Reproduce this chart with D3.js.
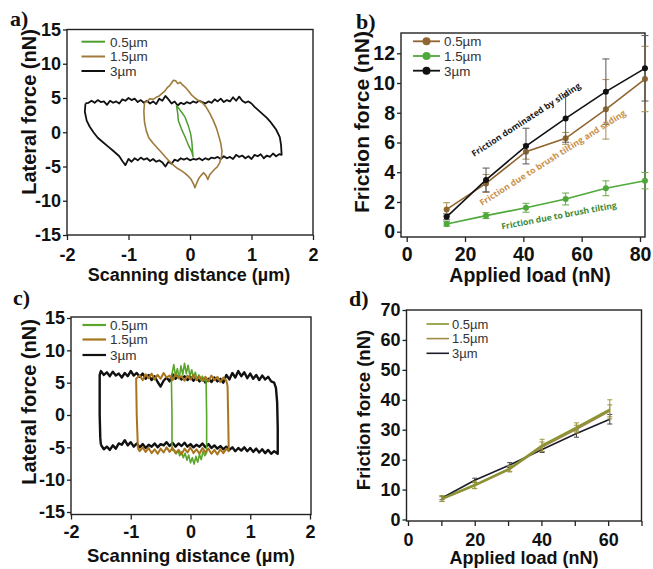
<!DOCTYPE html>
<html>
<head>
<meta charset="utf-8">
<script src="https://cdn.jsdelivr.net/npm/d3@7"></script>
<style>
  body { margin: 0; background: #fff; }
  svg { display: block; }
  .axis text { font-family: "Liberation Sans", Arial, sans-serif; font-weight: bold; fill: #111; }
  .axis line { stroke: #222; stroke-width: 1.3; }
  .title { font-family: "Liberation Sans", Arial, sans-serif; font-weight: bold; fill: #111; }
  .leg { font-family: "Liberation Sans", Arial, sans-serif; fill: #333; }
  .plabel { font-family: "Liberation Serif", "Times New Roman", serif; font-weight: bold; fill: #111; }
  .note { font-family: "Open Sans", sans-serif; font-weight: bold; }
</style>
</head>
<body>
<div id="fig"></div>
<script>
// ---------- panel a : friction loops (lateral force vs scanning distance) ----------
var loopA3 = [
  [-1.70,4.2],[-1.65,4.3],[-1.6,4.6],[-1.55,4.3],[-1.5,4.7],[-1.45,4.4],[-1.4,4.5],[-1.35,4.0],[-1.3,4.6],
  [-1.25,4.3],[-1.2,4.5],[-1.15,4.2],[-1.1,4.8],[-1.05,4.6],[-1.0,5.0],[-0.95,4.7],[-0.9,4.9],[-0.85,4.4],
  [-0.8,4.7],[-0.75,4.3],[-0.7,4.6],[-0.65,4.2],[-0.6,4.5],[-0.55,4.1],[-0.5,4.9],[-0.45,4.6],[-0.4,5.3],
  [-0.35,4.8],[-0.3,4.2],[-0.25,4.5],[-0.2,3.9],[-0.15,4.3],[-0.1,4.1],[-0.05,4.4],[0,4.2],[0.05,4.5],
  [0.1,4.3],[0.15,4.6],[0.2,4.4],[0.25,4.2],[0.3,4.5],[0.35,4.3],[0.4,4.8],[0.45,4.5],[0.5,4.9],[0.55,4.4],
  [0.6,4.7],[0.65,4.5],[0.7,5.1],[0.75,4.6],[0.8,5.2],[0.85,4.6],[0.9,4.3],[0.95,4.5],[1.0,4.2],
  [1.05,3.7],[1.1,3.3],[1.15,2.9],[1.2,2.5],[1.25,2.1],[1.3,1.6],[1.35,1.0],[1.4,0.4],[1.46,-0.7],
  [1.48,-1.8],[1.49,-3.3],
  [1.45,-3.2],[1.4,-3.5],[1.35,-3.1],[1.3,-3.6],[1.25,-3.4],[1.2,-3.8],[1.15,-3.2],[1.1,-3.5],[1.05,-3.3],
  [1.0,-3.9],[0.95,-3.5],[0.9,-3.8],[0.85,-3.4],[0.8,-3.6],[0.75,-3.3],[0.7,-3.9],[0.65,-3.6],[0.6,-3.8],
  [0.55,-3.5],[0.5,-3.9],[0.45,-3.6],[0.4,-3.8],[0.35,-3.7],[0.3,-4.0],[0.25,-3.8],[0.2,-4.1],[0.15,-3.8],
  [0.1,-4.0],[0.05,-3.9],[0,-4.1],[-0.05,-3.8],[-0.1,-4.0],[-0.15,-3.8],[-0.2,-4.2],[-0.25,-4.0],[-0.3,-4.6],
  [-0.35,-4.3],[-0.4,-5.0],[-0.45,-4.4],[-0.5,-4.1],[-0.55,-4.3],[-0.6,-3.9],[-0.65,-4.2],[-0.7,-3.8],
  [-0.75,-4.0],[-0.8,-3.7],[-0.85,-4.1],[-0.9,-3.8],[-0.95,-4.3],[-1.0,-3.9],[-1.05,-4.8],[-1.1,-4.2],
  [-1.15,-3.5],[-1.25,-2.7],[-1.33,-2.1],[-1.41,-1.5],[-1.5,-0.8],[-1.57,0],[-1.63,0.8],[-1.68,1.7],
  [-1.71,3.0],[-1.70,4.2]
];
var loopA15 = [
  [-0.74,4.3],[-0.75,3.0],[-0.74,1.5],[-0.71,0.2],[-0.67,-0.8],[-0.6,-1.6],[-0.53,-2.3],[-0.46,-3.0],
  [-0.4,-3.6],[-0.33,-4.3],[-0.27,-4.8],[-0.2,-5.3],[-0.14,-5.6],[-0.08,-6.0],[-0.03,-6.4],[0.02,-6.9],
  [0.06,-7.6],[0.08,-8.1],[0.11,-7.4],[0.14,-6.8],[0.18,-6.3],[0.22,-5.9],[0.26,-6.3],[0.29,-6.9],
  [0.32,-6.2],[0.36,-5.8],[0.4,-5.4],[0.44,-5.1],[0.48,-4.5],[0.51,-3.7],[0.52,-2.8],[0.5,-1.6],
  [0.47,-0.6],[0.43,0.6],[0.38,1.7],[0.32,2.8],[0.26,3.7],[0.2,4.3],[0.14,4.6],[0.08,5.0],[0.02,5.5],
  [-0.03,6.1],[-0.08,6.6],[-0.12,6.9],[-0.16,7.3],[-0.2,7.1],[-0.23,7.5],[-0.27,7.6],[-0.3,7.2],
  [-0.33,6.8],[-0.37,6.5],[-0.41,6.0],[-0.45,5.7],[-0.5,5.3],[-0.55,5.1],[-0.6,4.8],[-0.65,4.9],
  [-0.7,4.5],[-0.74,4.3]
];
var loopA05 = [
  [-0.22,3.9],[-0.2,2.8],[-0.19,1.7],[-0.14,0.5],[-0.08,-0.7],[-0.02,-2.0],[0.03,-2.9],[0.05,-3.6],
  [0.04,-2.6],[0.03,-1.4],[0.01,-0.2],[-0.03,1.0],[-0.08,2.2],[-0.15,3.1],[-0.22,3.9]
];

// ---------- panel b : friction force vs applied load ----------
var loadB = [13.7, 27.2, 40.9, 54.5, 68.3, 81.7];
var fricB05 = [1.5, 3.25, 5.38, 6.28, 8.23, 10.27];
var errB05  = [0.45, 0.6, 0.5, 0.4, 2.0, 2.2];
var fricB15 = [0.52, 1.08, 1.61, 2.2, 2.92, 3.43];
var errB15  = [0.15, 0.2, 0.3, 0.4, 0.5, 0.55];
var fricB3  = [1.0, 3.48, 5.76, 7.62, 9.42, 10.99];
var errB3   = [0.2, 0.8, 1.2, 1.6, 2.2, 2.2];

// ---------- panel c : friction loops ----------
var loopC3 = [
  [-1.5,-4.6],[-1.51,-3.5],[-1.52,0],[-1.52,4],[-1.52,6.2],[-1.5,6.8],[-1.45,6.2],[-1.4,6.6],[-1.35,6.0],
  [-1.3,6.7],[-1.25,6.1],[-1.2,6.4],[-1.15,5.8],[-1.1,6.5],[-1.05,6.0],[-1.0,6.8],[-0.95,6.1],[-0.9,6.5],
  [-0.85,5.9],[-0.8,6.4],[-0.75,5.6],[-0.7,6.2],[-0.65,5.4],[-0.6,6.0],[-0.55,5.1],[-0.5,4.4],[-0.45,5.3],
  [-0.4,5.8],[-0.35,5.2],[-0.3,6.3],[-0.25,5.6],[-0.2,6.1],[-0.15,5.5],[-0.1,6.0],[-0.05,5.4],[0,5.9],
  [0.05,5.3],[0.1,5.8],[0.15,5.2],[0.2,5.7],[0.25,5.0],[0.3,5.6],[0.35,5.1],[0.4,5.8],[0.45,5.2],[0.5,5.6],
  [0.55,5.0],[0.6,6.2],[0.65,5.5],[0.7,6.5],[0.75,5.8],[0.8,6.8],[0.85,6.0],[0.9,6.6],[0.95,5.7],[1.0,6.4],
  [1.05,5.6],[1.1,6.2],[1.15,5.4],[1.2,6.1],[1.25,5.5],[1.3,5.9],[1.35,5.2],[1.4,5.0],[1.43,4.2],[1.45,2],
  [1.46,-2],[1.46,-6.0],[1.4,-5.6],[1.35,-6.0],[1.3,-5.4],[1.25,-5.9],[1.2,-5.3],[1.15,-5.8],[1.1,-5.2],
  [1.05,-5.7],[1.0,-5.1],[0.95,-5.6],[0.9,-5.0],[0.85,-5.5],[0.8,-5.1],[0.75,-5.6],[0.7,-5.0],[0.65,-5.4],
  [0.6,-4.9],[0.55,-5.3],[0.5,-4.8],[0.45,-5.2],[0.4,-4.7],[0.35,-5.1],[0.3,-4.5],[0.25,-5.0],[0.2,-4.4],
  [0.15,-4.9],[0.1,-4.6],[0.05,-5.0],[0,-4.5],[-0.05,-4.9],[-0.1,-4.3],[-0.15,-4.8],[-0.2,-4.4],[-0.25,-4.9],
  [-0.3,-4.3],[-0.35,-4.8],[-0.4,-4.2],[-0.45,-4.7],[-0.5,-4.5],[-0.55,-5.0],[-0.6,-4.4],[-0.65,-4.9],
  [-0.7,-4.6],[-0.75,-5.1],[-0.8,-4.5],[-0.85,-5.0],[-0.9,-4.4],[-0.95,-4.9],[-1.0,-4.2],[-1.05,-4.7],
  [-1.1,-3.9],[-1.15,-4.6],[-1.2,-4.4],[-1.25,-5.2],[-1.3,-4.7],[-1.35,-5.4],[-1.4,-4.9],[-1.45,-5.3],[-1.5,-4.6]
];
var loopC15 = [
  [-0.88,-5.2],[-0.9,0],[-0.91,5.6],[-0.85,6.1],[-0.8,5.4],[-0.75,6.3],[-0.7,5.7],[-0.65,6.4],[-0.6,5.5],
  [-0.55,6.2],[-0.5,5.6],[-0.45,6.5],[-0.4,5.8],[-0.35,6.1],[-0.3,5.4],[-0.25,6.3],[-0.2,5.7],[-0.15,6.0],
  [-0.1,5.3],[-0.05,6.1],[0,5.5],[0.05,6.2],[0.1,5.4],[0.15,6.0],[0.2,5.3],[0.25,5.9],[0.3,5.2],[0.35,6.1],
  [0.4,5.4],[0.45,5.9],[0.5,5.1],[0.55,5.8],[0.6,5.3],[0.62,4.5],[0.63,0],[0.64,-5.6],[0.6,-5.2],[0.55,-5.9],
  [0.5,-5.3],[0.45,-6.1],[0.4,-5.4],[0.35,-6.0],[0.3,-5.2],[0.25,-5.8],[0.2,-5.1],[0.15,-6.0],[0.1,-5.3],
  [0.05,-5.9],[0,-5.0],[-0.05,-5.8],[-0.1,-5.2],[-0.15,-6.1],[-0.2,-5.4],[-0.25,-5.9],[-0.3,-5.1],
  [-0.35,-5.7],[-0.4,-5.0],[-0.45,-5.8],[-0.5,-5.2],[-0.55,-6.0],[-0.6,-5.3],[-0.65,-5.9],[-0.7,-5.1],
  [-0.75,-5.7],[-0.8,-5.0],[-0.85,-5.6],[-0.88,-5.2]
];
var loopC05 = [
  [-0.31,-5.5],[-0.31,0],[-0.32,5.8],[-0.28,7.8],[-0.25,6.0],[-0.22,7.2],[-0.19,5.6],[-0.16,7.6],[-0.13,6.2],
  [-0.1,8.0],[-0.07,6.4],[-0.04,7.7],[-0.01,6.0],[0.02,7.0],[0.05,5.8],[0.08,6.6],[0.11,5.5],[0.14,6.2],
  [0.17,5.4],[0.2,6.0],[0.23,5.3],[0.26,5.6],[0.27,0],[0.27,-5.8],[0.24,-6.3],[0.21,-5.6],[0.18,-6.9],
  [0.15,-6.1],[0.12,-7.3],[0.09,-6.4],[0.06,-7.6],[0.03,-6.6],[0.0,-7.4],[-0.03,-6.2],[-0.06,-7.0],
  [-0.09,-5.9],[-0.12,-6.6],[-0.15,-5.7],[-0.18,-6.3],[-0.21,-5.5],[-0.24,-6.0],[-0.27,-5.4],[-0.31,-5.5]
];

// ---------- panel d : friction force vs applied load ----------
var loadD = [10.2, 20.0, 30.5, 40.2, 50.5, 60.5];
var fricD05 = [7.0, 11.6, 17.1, 24.8, 30.8, 36.8];
var errD05  = [1.0, 1.2, 1.0, 2.0, 1.5, 3.2];
var fricD15 = [6.8, 11.3, 16.8, 24.3, 30.2, 36.3];
var errD15  = [0.8, 1.0, 0.9, 1.6, 1.3, 2.0];
var fricD3  = [7.2, 13.1, 18.2, 23.4, 28.7, 33.5];
var errD3   = [0.6, 0.7, 0.8, 1.0, 1.2, 1.6];

var legendLabels = ["0.5\u00b5m", "1.5\u00b5m", "3\u00b5m"];

var W = 653, H = 569;
var svg = d3.select("#fig").append("svg").attr("width", W).attr("height", H);
var fmt = function(d) { return String(d); };

function frame(x, y, box, xt, yt, fs, xfmt, xpad) {
  svg.append("rect")
    .attr("x", box[0]).attr("y", box[1])
    .attr("width", box[2] - box[0]).attr("height", box[3] - box[1])
    .attr("fill", "none").attr("stroke", "#222").attr("stroke-width", 1.4);
  var gx = svg.append("g").attr("transform", "translate(0," + box[3] + ")")
    .call(d3.axisBottom(x).tickValues(xt).tickFormat(xfmt || fmt).tickSize(5).tickPadding(xpad));
  gx.attr("class", "axis").attr("font-size", fs).attr("font-family", null);
  gx.select(".domain").remove();
  var gy = svg.append("g").attr("transform", "translate(" + box[0] + ",0)")
    .call(d3.axisLeft(y).tickValues(yt).tickFormat(fmt).tickSize(4).tickPadding(2));
  gy.attr("class", "axis").attr("font-size", fs).attr("font-family", null);
  gy.select(".domain").remove();
}

function titles(xt, xpos, yt, ypos, fs) {
  svg.append("text").attr("class", "title").attr("font-size", fs[0])
    .attr("x", xpos[0]).attr("y", xpos[1]).attr("text-anchor", "middle").text(xt);
  svg.append("text").attr("class", "title").attr("font-size", fs[1])
    .attr("transform", "translate(" + ypos[0] + "," + ypos[1] + ") rotate(-90)")
    .attr("text-anchor", "middle").text(yt);
}

function plabel(t, px, py) {
  svg.append("text").attr("class", "plabel").attr("font-size", 22).attr("x", px).attr("y", py).text(t);
}

function loop(x, y, pts, color, w) {
  var line = d3.line().x(function(d) { return x(d[0]); }).y(function(d) { return y(d[1]); });
  svg.append("path").datum(pts).attr("d", line)
    .attr("fill", "none").attr("stroke", color).attr("stroke-width", w).attr("stroke-linejoin", "round");
}

function lineLegend(colors, x0, x1, ys, tx, fs, w) {
  colors.forEach(function(c, i) {
    svg.append("line").attr("x1", x0).attr("x2", x1).attr("y1", ys[i]).attr("y2", ys[i])
      .attr("stroke", c).attr("stroke-width", w);
    svg.append("text").attr("class", "leg").attr("font-size", fs)
      .attr("x", tx).attr("y", ys[i]).attr("dy", "0.36em").text(legendLabels[i]);
  });
}

function series(x, y, xs, ys, es, color, ecolor, w, r, cap) {
  var pts = xs.map(function(v, i) { return [v, ys[i], es[i]]; });
  var g = svg.append("g");
  pts.forEach(function(p) {
    var cx = x(p[0]);
    g.append("line").attr("x1", cx).attr("x2", cx).attr("y1", y(p[1] - p[2])).attr("y2", y(p[1] + p[2]))
      .attr("stroke", ecolor).attr("stroke-width", 1);
    [p[1] - p[2], p[1] + p[2]].forEach(function(v) {
      g.append("line").attr("x1", cx - cap).attr("x2", cx + cap).attr("y1", y(v)).attr("y2", y(v))
        .attr("stroke", ecolor).attr("stroke-width", 1);
    });
  });
  g.append("path").datum(pts)
    .attr("d", d3.line().x(function(d) { return x(d[0]); }).y(function(d) { return y(d[1]); }))
    .attr("fill", "none").attr("stroke", color).attr("stroke-width", w);
  if (r > 0) {
    g.selectAll("circle").data(pts).join("circle")
      .attr("cx", function(d) { return x(d[0]); }).attr("cy", function(d) { return y(d[1]); })
      .attr("r", r).attr("fill", color);
  }
}

// ===== panel a =====
var xa = d3.scaleLinear().domain([-2, 2]).range([67, 313]);
var ya = d3.scaleLinear().domain([-15, 15]).range([235, 29.5]);
frame(xa, ya, [67, 29.5, 313, 235], [-2, -1, 0, 1, 2], d3.range(-15, 16, 5), 18, null, 8);
loop(xa, ya, loopA3, "#111", 1.8);
loop(xa, ya, loopA15, "#9e7a3c", 1.6);
loop(xa, ya, loopA05, "#4e9e2e", 1.5);
lineLegend(["#4e9e2e", "#9e7a3c", "#111"], 81.5, 105, [41.7, 56.5, 71], 110, 13.5, 2);
titles("Scanning distance (\u00b5m)", [189, 281], "Lateral force (nN)", [36, 112], [18, 20]);
plabel("a)", 10, 26);

// ===== panel b =====
var xb = d3.scaleLinear().domain([0, 80]).range([406.7, 640]);
var yb = d3.scaleLinear().domain([0, 12]).range([231.7, 53.3]);
frame(xb, yb, [401, 33, 645, 237], d3.range(0, 81, 20), d3.range(0, 13, 2), 19.5, null, 5);
series(xb, yb, loadB, fricB15, errB15, "#4ea83a", "#6aa84a", 1.6, 3, 3.5);
series(xb, yb, loadB, fricB05, errB05, "#8f6530", "#a98a55", 1.6, 3, 3.5);
series(xb, yb, loadB, fricB3, errB3, "#111", "#555", 1.6, 3, 3.5);
[["#8f6530"], ["#4ea83a"], ["#111"]].forEach(function(c, i) {
  var yy = [41.3, 56, 70.7][i];
  svg.append("line").attr("x1", 413).attr("x2", 440).attr("y1", yy).attr("y2", yy)
    .attr("stroke", c[0]).attr("stroke-width", 1.8);
  svg.append("circle").attr("cx", 426.5).attr("cy", yy).attr("r", 4).attr("fill", c[0]);
  svg.append("text").attr("class", "leg").attr("font-size", 13.4).attr("x", 444).attr("y", yy)
    .attr("dy", "0.36em").text(legendLabels[i]);
});
var notes = [
  { t: "Friction dominated by sliding", x: 474, y: 157, a: -33, len: 128, c: "#1a1a1a" },
  { t: "Friction due to brush tilting and sliding", x: 482, y: 206, a: -32.3, len: 171, c: "#c9914a" },
  { t: "Friction due to brush tilting", x: 502, y: 229.5, a: -10.7, len: 117, c: "#3d8a3a" }
];
notes.forEach(function(n) {
  svg.append("text").attr("class", "note").attr("font-size", 8.5).attr("fill", n.c)
    .attr("transform", "translate(" + n.x + "," + n.y + ") rotate(" + n.a + ")")
    .attr("textLength", n.len).attr("lengthAdjust", "spacingAndGlyphs").text(n.t);
});
titles("Applied load (nN)", [530, 282], "Friction force (nN)", [369, 122], [19.5, 21]);
plabel("b)", 356, 29);

// ===== panel c =====
var xc = d3.scaleLinear().domain([-2, 2]).range([71, 310]);
var yc = d3.scaleLinear().domain([-15, 15]).range([512, 318]);
frame(xc, yc, [71, 317, 311, 514.5], [-2, -1, 0, 1, 2], d3.range(-15, 16, 5), 18, null, 6);
loop(xc, yc, loopC3, "#111", 2.4);
loop(xc, yc, loopC05, "#5aa52c", 1.6);
loop(xc, yc, loopC15, "#a8741e", 2);
lineLegend(["#5aa52c", "#a8741e", "#111"], 82.5, 106, [325, 339.5, 355], 110, 13.5, 2.2);
titles("Scanning distance (\u00b5m)", [191, 562], "Lateral force (nN)", [36, 402], [18.5, 20]);
plabel("c)", 13, 305);

// ===== panel d =====
var xd = d3.scaleLinear().domain([0, 70]).range([408, 641.5]);
var yd = d3.scaleLinear().domain([0, 70]).range([519.5, 310]);
frame(xd, yd, [406.5, 310, 641.5, 521], d3.range(0, 71, 10), d3.range(0, 71, 10), 18,
  function(d) { return d % 20 === 0 ? String(d) : ""; }, 7);
series(xd, yd, loadD, fricD3, errD3, "#1c1c2a", "#444", 1.6, 0, 2.5);
series(xd, yd, loadD, fricD15, errD15, "#a08a45", "#a08a45", 2, 0, 2.5);
series(xd, yd, loadD, fricD05, errD05, "#869530", "#9a9a40", 2, 0, 2.5);
lineLegend(["#869530", "#a08a45", "#1c1c2a"], 426.5, 449, [324, 338.6, 353.3], 452, 13, 1.6);
titles("Applied load (nN)", [524, 564], "Friction force (nN)", [370, 410], [18, 18.5]);
plabel("d)", 349, 306);
</script>
</body>
</html>
